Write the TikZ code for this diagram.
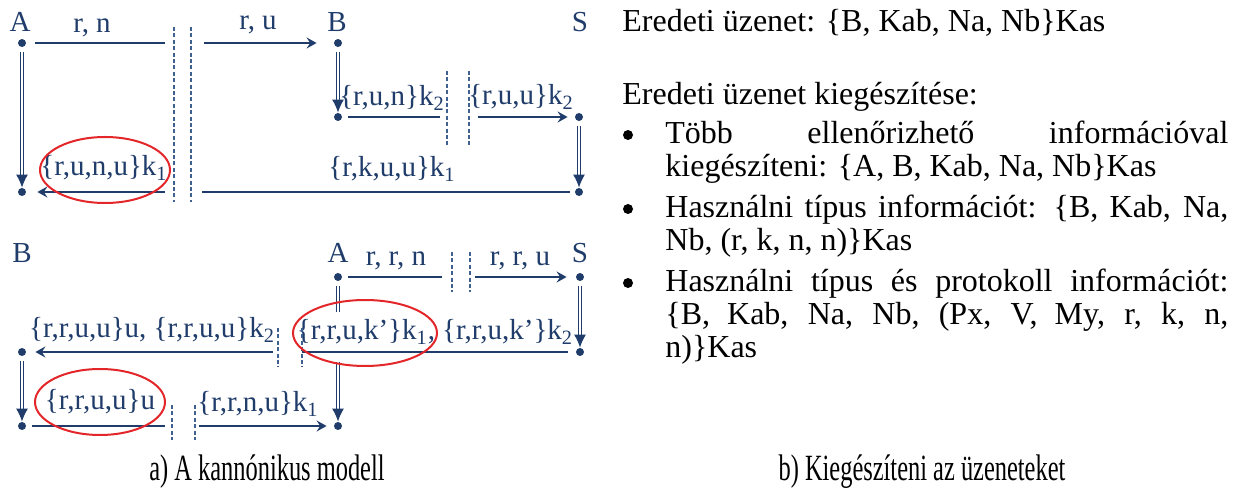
\documentclass[tikz,border=0pt]{standalone}
\usepackage{fontspec}
\setmainfont{Liberation Serif}
\newfontfamily\capfont[FakeStretch=0.66]{Liberation Serif}
\usetikzlibrary{arrows.meta}
\definecolor{navy}{HTML}{1F3C6A}
\definecolor{dashc}{HTML}{3F6190}
\definecolor{ovalred}{HTML}{E3262A}
\tikzset{
 pdot/.style={circle, fill=navy, inner sep=0pt, minimum size=4pt},
 bdot/.style={circle, fill=black, inner sep=0pt, minimum size=5pt},
 lbl/.style={anchor=base, text=navy, font=\fontsize{14.5}{17}\selectfont, inner sep=0pt},
 msg/.style={draw=navy, line width=0.8pt},
 msgarr/.style={msg, -{Stealth[length=5pt,width=5.5pt,inset=1.8pt]}},
 dblline/.style={draw=navy, double=white, line width=0.65pt, double distance=1.1pt},
 dblarr/.style={dblline, -{Latex[length=6.5pt,width=6pt]}},
 sepline/.style={draw=dashc, line width=0.55pt, dash pattern=on 2pt off 1.2pt},
 oval/.style={draw=ovalred, line width=1pt},
 body/.style={anchor=base west, inner sep=0pt, font=\fontsize{16}{18}\selectfont},
 capt/.style={anchor=base, inner sep=0pt, font=\capfont\fontsize{18.5}{20}\selectfont},
}
\begin{document}
\begin{tikzpicture}[x=0.5pt,y=-0.5pt]
\useasboundingbox (0,0) rectangle (1239,497);
% ---------- top diagram ----------
\node[pdot] (tA) at (22,43) {};
\node[pdot] (tB) at (338,43) {};
\node[pdot] (tB2) at (338,117) {};
\node[pdot] (tS2) at (579,117) {};
\node[pdot] (tS3) at (579,192) {};
\node[pdot] (tA2) at (22,192) {};
\node[lbl] (tAl) at (20,32) {A};
\node[lbl] (tBl) at (337,32) {B};
\node[lbl] (tSl) at (580,32) {S};
\node[lbl] (l1) at (92,33) {r, n};
\node[lbl] (l2) at (258,30) {r, u};
\node[lbl] (l3) at (392,106) {\{r,u,n\}k\textsubscript{2}};
\node[lbl] (l4) at (521,105) {\{r,u,u\}k\textsubscript{2}};
\node[lbl] (l5) at (392,177) {\{r,k,u,u\}k\textsubscript{1}};
\node[lbl] (l6) at (104,176) {\{r,u,n,u\}k\textsubscript{1}};
\coordinate (g1a) at (165,43); \coordinate (g1b) at (204,43);
\draw[msg, shorten <=4.5pt] (tA) -- (g1a);
\draw[msgarr, shorten >=8.5pt] (g1b) -- (tB);
\draw[dblarr, shorten <=2.5pt] (tB) -- (tB2);
\coordinate (g2a) at (440,117); \coordinate (g2b) at (478,117);
\draw[msg, shorten <=3pt] (tB2) -- (g2a);
\draw[msgarr, shorten >=3.5pt] (g2b) -- (tS2);
\draw[dblarr, shorten <=2.5pt] (tS2) -- (tS3);
\coordinate (g3a) at (202,192); \coordinate (g3b) at (165,192);
\draw[msg, shorten <=2.5pt] (tS3) -- (g3a);
\draw[msgarr, shorten >=5.5pt] (g3b) -- (tA2);
\draw[dblarr, shorten <=2.5pt] (tA) -- (tA2);
\draw[sepline] (174,27) -- (174,202);
\draw[sepline] (191,27) -- (191,202);
\draw[sepline] (447,71) -- (447,145);
\draw[sepline] (469,71) -- (469,145);
\draw[oval] (105,170) ellipse [x radius=32.5pt, y radius=16.5pt];
% ---------- bottom diagram ----------
\node[pdot] (bA) at (338,277) {};
\node[pdot] (bS) at (580,277) {};
\node[pdot] (bS2) at (580,352) {};
\node[pdot] (bB) at (22,352) {};
\node[pdot] (bB2) at (22,426) {};
\node[pdot] (bA2) at (338,426) {};
\node[lbl] (bBl) at (22,263) {B};
\node[lbl] (bAl) at (338,263) {A};
\node[lbl] (bSl) at (580,263) {S};
\node[lbl] (l7) at (396,266) {r, r, n};
\node[lbl] (l8) at (520,266) {r, r, u};
\node[lbl] (l9) at (152,338) {\{r,r,u,u\}u, \{r,r,u,u\}k\textsubscript{2}};
\node[lbl] (l10) at (435,340) {\{r,r,u,k’\}k\textsubscript{1}, \{r,r,u,k’\}k\textsubscript{2}};
\node[lbl] (l11) at (100,410) {\{r,r,u,u\}u};
\node[lbl] (l12) at (258,412) {\{r,r,n,u\}k\textsubscript{1}};
\coordinate (g4a) at (442,277); \coordinate (g4b) at (475,277);
\draw[msg, shorten <=3pt] (bA) -- (g4a);
\draw[msgarr, shorten >=4.5pt] (g4b) -- (bS);
\draw[dblarr, shorten <=2.5pt] (bS) -- (bS2);
\coordinate (g5a) at (302,352); \coordinate (g5b) at (273,352);
\draw[msg, shorten <=4pt] (bS2) -- (g5a);
\draw[msgarr, shorten >=4.5pt] (g5b) -- (bB);
\draw[dblarr, shorten <=2.5pt] (bB) -- (bB2);
\coordinate (g6a) at (165,426); \coordinate (g6b) at (199,426);
\draw[msg, shorten <=3pt] (bB2) -- (g6a);
\draw[msgarr, shorten >=3.5pt] (g6b) -- (bA2);
\coordinate (bAm1) at (338,312); \coordinate (bAm2) at (338,362);
\draw[dblline, shorten <=2.5pt] (bA) -- (bAm1);
\draw[dblarr] (bAm2) -- (bA2);
\draw[sepline] (452,252) -- (452,292);
\draw[sepline] (470,252) -- (470,292);
\draw[sepline] (278,328) -- (278,367);
\draw[sepline] (302,328) -- (302,367);
\draw[sepline] (172,405) -- (172,440);
\draw[sepline] (195,405) -- (195,440);
\draw[oval] (365,333) ellipse [x radius=36pt, y radius=16.5pt];
\draw[oval] (100,402) ellipse [x radius=32.5pt, y radius=16.5pt];
% ---------- right text ----------
\node[body] (h1) at (622,32) {Eredeti üzenet: \{B, Kab, Na, Nb\}Kas};
\node[body] (h2) at (622,105) {Eredeti üzenet kiegészítése:};
\node[bdot] (bu1) at (628,135) {};
\node[body] (i1a) at (665,144) {\makebox[281.5pt][s]{Több ellenőrizhető információval}};
\node[body] (i1b) at (665,177) {kiegészíteni: \{A, B, Kab, Na, Nb\}Kas};
\node[bdot] (bu2) at (628,209) {};
\node[body] (i2a) at (665,218) {\makebox[281.5pt][s]{Használni típus információt: \{B, Kab, Na,}};
\node[body] (i2b) at (665,251) {Nb, (r, k, n, n)\}Kas};
\node[bdot] (bu3) at (628,283) {};
\node[body] (i3a) at (665,292) {\makebox[281.5pt][s]{Használni típus és protokoll információt:}};
\node[body] (i3b) at (665,325) {\makebox[281.5pt][s]{\{B, Kab, Na, Nb, (Px, V, My, r, k, n,}};
\node[body] (i3c) at (665,358) {n)\}Kas};
% ---------- captions ----------
\node[capt] (c1) at (267,481) {a) A kannónikus modell};
\node[capt] (c2) at (922,481) {b) Kiegészíteni az üzeneteket};
\end{tikzpicture}
\end{document}
